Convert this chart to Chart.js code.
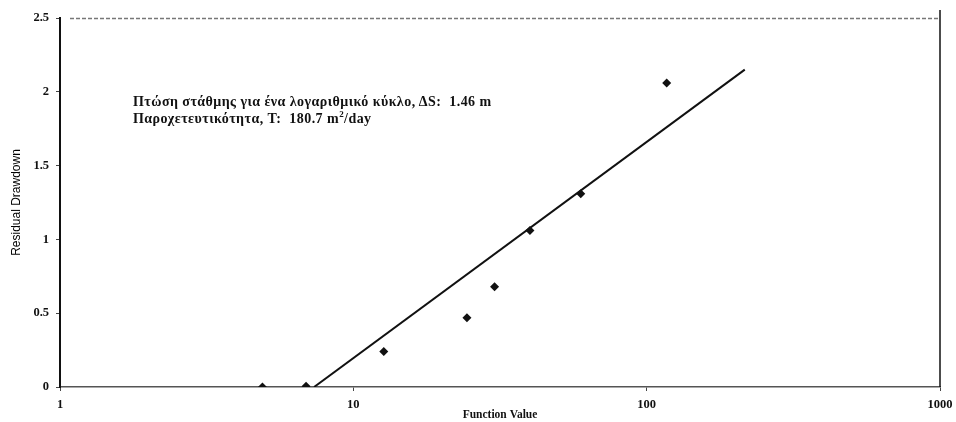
<!DOCTYPE html>
<html>
<head>
<meta charset="utf-8">
<script src="https://cdn.jsdelivr.net/npm/chart.js@4/dist/chart.umd.min.js"></script>
<style>
  html, body { margin: 0; padding: 0; background: #fff; }
  .wrap { position: relative; width: 956px; height: 422px; }
  .note {
    position: absolute; left: 133px; top: 93px;
    font: bold 14px 'Liberation Serif', 'Times New Roman', serif;
    letter-spacing: 0.45px;
    line-height: 17px; color: #111; white-space: nowrap;
  }
  .note sup { font-size: 9px; line-height: 0; }
</style>
</head>
<body>
<div class="wrap">
  <canvas id="c" width="956" height="422"></canvas>
  <div class="note">
    Πτώση στάθμης για ένα λογαριθμικό κύκλο, ΔS:&nbsp; 1.46 m<br>
    Παροχετευτικότητα, T:&nbsp; 180.7 m<sup>2</sup>/day
  </div>
</div>
<script>
// measured points
const fnValue  = [4.9, 6.9, 12.7, 24.4, 30.3, 40.0, 59.6, 117];
const drawdown = [0, 0.005, 0.24, 0.47, 0.68, 1.06, 1.31, 2.06];
// fitted straight line (ΔS = 1.46 m per log cycle)
const fitX = [7.35, 216];
const fitY = [0, 2.15];
const xTicks = [1, 10, 100, 1000];
const yTicks = [0, 0.5, 1, 1.5, 2, 2.5];

const SERIF = "'Liberation Serif', 'Times New Roman', serif";

const frame = {
  id: 'frame',
  afterDraw(chart) {
    const { ctx, chartArea: a } = chart;
    ctx.save();
    // dashed grey line along the top
    ctx.strokeStyle = '#777';
    ctx.lineWidth = 1.5;
    ctx.setLineDash([4, 2]);
    ctx.beginPath();
    ctx.moveTo(a.left + 10, a.top + 0.5);
    ctx.lineTo(a.right, a.top + 0.5);
    ctx.stroke();
    // right border
    ctx.setLineDash([]);
    ctx.strokeStyle = '#111';
    ctx.lineWidth = 1.5;
    ctx.beginPath();
    ctx.moveTo(a.right, a.top - 8);
    ctx.lineTo(a.right, a.bottom);
    ctx.stroke();
    ctx.restore();
  }
};

new Chart(document.getElementById('c'), {
  type: 'scatter',
  data: {
    datasets: [
      {
        label: 'data',
        data: fnValue.map((x, i) => ({ x, y: drawdown[i] })),
        pointStyle: 'rectRot', pointRadius: 4.5,
        backgroundColor: '#111', borderColor: '#111', borderWidth: 0
      },
      {
        label: 'fit',
        data: fitX.map((x, i) => ({ x, y: fitY[i] })),
        showLine: true, pointRadius: 0,
        borderColor: '#111', borderWidth: 2
      }
    ]
  },
  plugins: [frame],
  options: {
    responsive: false, animation: false,
    layout: { padding: { top: 18, right: 16, left: 0, bottom: 0 } },
    plugins: { legend: { display: false }, tooltip: { enabled: false } },
    scales: {
      x: {
        type: 'logarithmic', min: 1, max: 1000,
        afterBuildTicks: s => { s.ticks = xTicks.map(v => ({ value: v })); },
        afterFit: s => { s.height = 35; s.paddingLeft = 0; s.paddingRight = 0; },
        grid: { drawOnChartArea: false, color: '#444', tickLength: 4 },
        border: { color: '#555', width: 1.5 },
        ticks: { color: '#111', font: { family: SERIF, size: 12.5, weight: 'bold' }, padding: 6, maxRotation: 0,
                 callback: v => String(v) },
        title: { display: true, text: 'Function Value', color: '#111', padding: { top: 2, bottom: 0 },
                 font: { family: SERIF, size: 11.5, weight: 'bold' } }
      },
      y: {
        min: 0, max: 2.5,
        afterBuildTicks: s => { s.ticks = yTicks.map(v => ({ value: v })); },
        afterFit: s => { s.width = 60; s.paddingTop = 0; s.paddingBottom = 0; },
        grid: { drawOnChartArea: false, color: '#444', tickLength: 4 },
        border: { color: '#111', width: 2 },
        ticks: { color: '#111', font: { family: SERIF, size: 12.5, weight: 'bold' }, padding: 7,
                 callback: v => String(v) },
        title: { display: true, text: 'Residual Drawdown', color: '#000', padding: { top: 9, bottom: 0 },
                 font: { family: "'Liberation Sans Narrow', 'Liberation Sans', sans-serif", size: 12 } }
      }
    }
  }
});
</script>
</body>
</html>
